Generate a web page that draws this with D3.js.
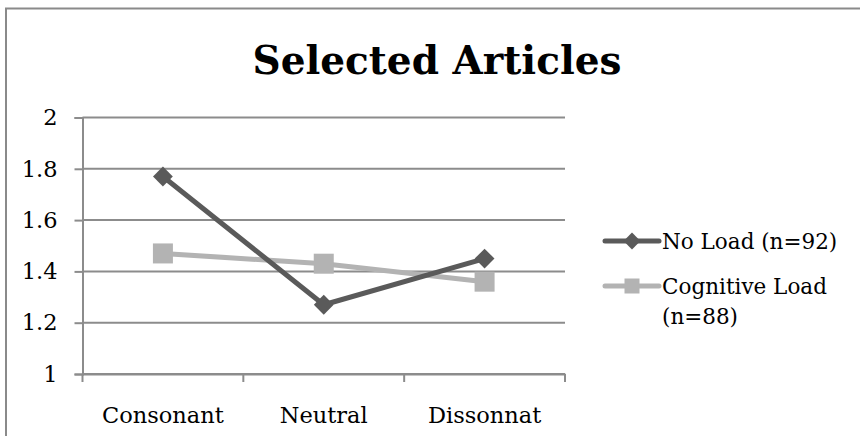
<!DOCTYPE html>
<html>
<head>
<meta charset="utf-8">
<script src="https://cdn.jsdelivr.net/npm/d3@7"></script>
<style>
  html, body { margin: 0; padding: 0; background: #fff; }
  svg { display: block; font-family: "DejaVu Serif", "Liberation Serif", serif; }
</style>
</head>
<body>
<svg id="chart" width="860" height="436"></svg>
<script>
// Chart data
const categories = ["Consonant", "Neutral", "Dissonnat"];
const noLoad = [1.77, 1.27, 1.45];
const cognitiveLoad = [1.47, 1.43, 1.36];
const yTicks = [1, 1.2, 1.4, 1.6, 1.8, 2];
const seriesNames = ["No Load (n=92)", "Cognitive Load (n=88)"];

const svg = d3.select("#chart");

// Outer frame (continues past the right and bottom edges)
svg.append("rect")
  .attr("x", 6).attr("y", 8.5)
  .attr("width", 900).attr("height", 500)
  .attr("fill", "none")
  .attr("stroke", "#8a8a8a")
  .attr("stroke-width", 2);

// Title
svg.append("text")
  .attr("x", 437).attr("y", 74)
  .attr("text-anchor", "middle")
  .attr("font-size", 39)
  .attr("font-weight", "bold")
  .attr("fill", "#000")
  .text("Selected Articles");

const plot = { left: 82.5, right: 565, top: 117.5, bottom: 374 };

const x = d3.scaleBand().domain(categories).range([plot.left, plot.right]);
const y = d3.scaleLinear().domain([1, 2]).range([plot.bottom, plot.top]);

const gridColor = "#8c8c8c";
const labelSize = 22.5;

// Horizontal gridlines
svg.append("g")
  .selectAll("line")
  .data(yTicks)
  .join("line")
  .attr("x1", plot.left).attr("x2", plot.right)
  .attr("y1", d => y(d)).attr("y2", d => y(d))
  .attr("stroke", gridColor)
  .attr("stroke-width", 2);

// Y axis
const yAxis = svg.append("g")
  .attr("transform", `translate(${plot.left},0)`)
  .call(d3.axisLeft(y).tickValues(yTicks).tickFormat(d3.format("~g")).tickSize(8).tickPadding(17));
yAxis.select(".domain").attr("stroke", gridColor).attr("stroke-width", 2);
yAxis.selectAll(".tick line").attr("stroke", gridColor).attr("stroke-width", 2);
yAxis.selectAll(".tick text")
  .attr("font-family", "DejaVu Serif, serif")
  .attr("font-size", labelSize)
  .attr("fill", "#000");

// X axis with category boundary ticks
const xAxis = svg.append("g")
  .attr("transform", `translate(0,${plot.bottom})`)
  .call(d3.axisBottom(x).tickSize(0).tickPadding(33));
xAxis.select(".domain").attr("stroke", gridColor).attr("stroke-width", 2);
xAxis.selectAll(".tick text")
  .attr("font-family", "DejaVu Serif, serif")
  .attr("font-size", labelSize)
  .attr("fill", "#000");
const boundaries = categories.map(c => x(c)).concat([x(categories[categories.length - 1]) + x.bandwidth()]);
xAxis.append("g")
  .selectAll("line")
  .data(boundaries)
  .join("line")
  .attr("x1", d => d).attr("x2", d => d)
  .attr("y1", 0).attr("y2", 8)
  .attr("stroke", gridColor)
  .attr("stroke-width", 2);

const cx = c => x(c) + x.bandwidth() / 2;
const line = d3.line().x(d => cx(d.c)).y(d => y(d.v));

const series = [
  { name: seriesNames[0], values: noLoad, color: "#5a5a5a", shape: "diamond" },
  { name: seriesNames[1], values: cognitiveLoad, color: "#b3b3b3", shape: "square" }
];

function marker(sel, s, size) {
  if (s.shape === "diamond") {
    const h = size * 0.7 / 2;
    sel.append("rect")
      .attr("x", -h).attr("y", -h).attr("width", 2 * h).attr("height", 2 * h)
      .attr("transform", "rotate(45)")
      .attr("fill", s.color);
  } else {
    sel.append("rect")
      .attr("x", -size / 2).attr("y", -size / 2).attr("width", size).attr("height", size)
      .attr("fill", s.color);
  }
}

// Light series first, dark series on top
[series[1], series[0]].forEach(s => {
  const pts = s.values.map((v, i) => ({ c: categories[i], v }));
  svg.append("path")
    .datum(pts)
    .attr("d", line)
    .attr("fill", "none")
    .attr("stroke", s.color)
    .attr("stroke-width", 5)
    .attr("stroke-linejoin", "round");
  svg.append("g")
    .selectAll("g")
    .data(pts)
    .join("g")
    .attr("transform", d => `translate(${cx(d.c)},${y(d.v)})`)
    .each(function () { marker(d3.select(this), s, 20); });
});

// Legend
const legend = svg.append("g");
const legendRows = [
  { s: series[0], y: 241, lines: ["No Load (n=92)"] },
  { s: series[1], y: 286, lines: ["Cognitive Load", "(n=88)"] }
];
legendRows.forEach(r => {
  const g = legend.append("g").attr("transform", `translate(0,${r.y})`);
  g.append("line")
    .attr("x1", 605).attr("x2", 659)
    .attr("y1", 0).attr("y2", 0)
    .attr("stroke", r.s.color)
    .attr("stroke-width", 5)
    .attr("stroke-linecap", "round");
  const m = g.append("g").attr("transform", "translate(632,0)");
  marker(m, r.s, r.s.shape === "diamond" ? 17 : 15);
  const t = g.append("text")
    .attr("x", 662)
    .attr("y", 8)
    .attr("font-size", 21.5)
    .attr("fill", "#000");
  r.lines.forEach((ln, i) => {
    t.append("tspan").attr("x", 662).attr("dy", i === 0 ? 0 : 30).text(ln);
  });
});
</script>
</body>
</html>
